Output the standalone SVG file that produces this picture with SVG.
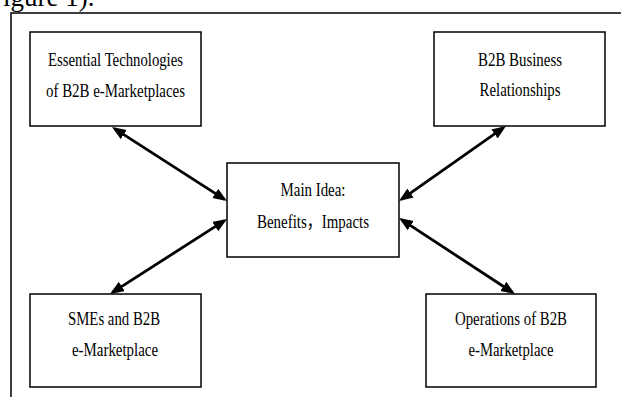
<svg xmlns="http://www.w3.org/2000/svg" width="621" height="397" viewBox="0 0 621 397">
  <style>
    .box { fill: #ffffff; stroke: #000000; stroke-width: 1.5; }
    .frame { fill: none; stroke: #000000; stroke-width: 1.5; }
    .lbl { font-family: "Liberation Serif", "Times New Roman", "Noto Sans CJK SC", serif; font-size: 19px; fill: #000000; text-anchor: middle; }
    .cap { font-family: "Liberation Serif", "Times New Roman", serif; font-size: 27px; fill: #000000; }
    .conn { stroke: #000000; stroke-width: 2.8; fill: none; marker-start: url(#ah); marker-end: url(#ah); }
  </style>
  <defs>
    <marker id="ah" markerUnits="userSpaceOnUse" markerWidth="15" markerHeight="12" refX="11" refY="5.5" orient="auto-start-reverse">
      <path d="M0,0 L14,5.5 L0,11 z" fill="#000000"/>
    </marker>
  </defs>
  <rect width="621" height="397" fill="#ffffff"/>
  <text class="cap" x="-12" y="6">Figure 1).</text>
  <path class="frame" d="M11,397 L11,13 L621,13"/>

  <g id="connectors">
    <line class="conn" x1="114.5" y1="128.6" x2="224.5" y2="199.4"/>
    <line class="conn" x1="503.5" y1="127.7" x2="401.5" y2="199.3"/>
    <line class="conn" x1="112.5" y1="292.4" x2="224.5" y2="220.6"/>
    <line class="conn" x1="512.5" y1="292.4" x2="401.5" y2="219.6"/>
  </g>

  <g id="essential-technologies">
    <rect class="box" x="30" y="32" width="171" height="94"/>
    <text class="lbl" x="115.5" y="66" textLength="135" lengthAdjust="spacingAndGlyphs">Essential Technologies</text>
    <text class="lbl" x="115.5" y="97" textLength="139" lengthAdjust="spacingAndGlyphs">of B2B e-Marketplaces</text>
  </g>
  <g id="b2b-business-relationships">
    <rect class="box" x="434" y="32" width="171" height="94"/>
    <text class="lbl" x="520" y="66" textLength="84" lengthAdjust="spacingAndGlyphs">B2B Business</text>
    <text class="lbl" x="520" y="96" textLength="81" lengthAdjust="spacingAndGlyphs">Relationships</text>
  </g>
  <g id="main-idea">
    <rect class="box" x="227" y="163" width="172" height="94"/>
    <text class="lbl" x="313" y="196" textLength="65" lengthAdjust="spacingAndGlyphs">Main Idea:</text>
    <text class="lbl" x="313" y="228" textLength="112" lengthAdjust="spacingAndGlyphs">Benefits，Impacts</text>
  </g>
  <g id="smes">
    <rect class="box" x="30" y="294" width="171" height="93"/>
    <text class="lbl" x="114" y="325" textLength="92" lengthAdjust="spacingAndGlyphs">SMEs and B2B</text>
    <text class="lbl" x="115" y="356" textLength="86" lengthAdjust="spacingAndGlyphs">e-Marketplace</text>
  </g>
  <g id="operations">
    <rect class="box" x="426" y="294" width="170" height="93"/>
    <text class="lbl" x="511" y="325" textLength="112" lengthAdjust="spacingAndGlyphs">Operations of B2B</text>
    <text class="lbl" x="511" y="356" textLength="85" lengthAdjust="spacingAndGlyphs">e-Marketplace</text>
  </g>
</svg>
